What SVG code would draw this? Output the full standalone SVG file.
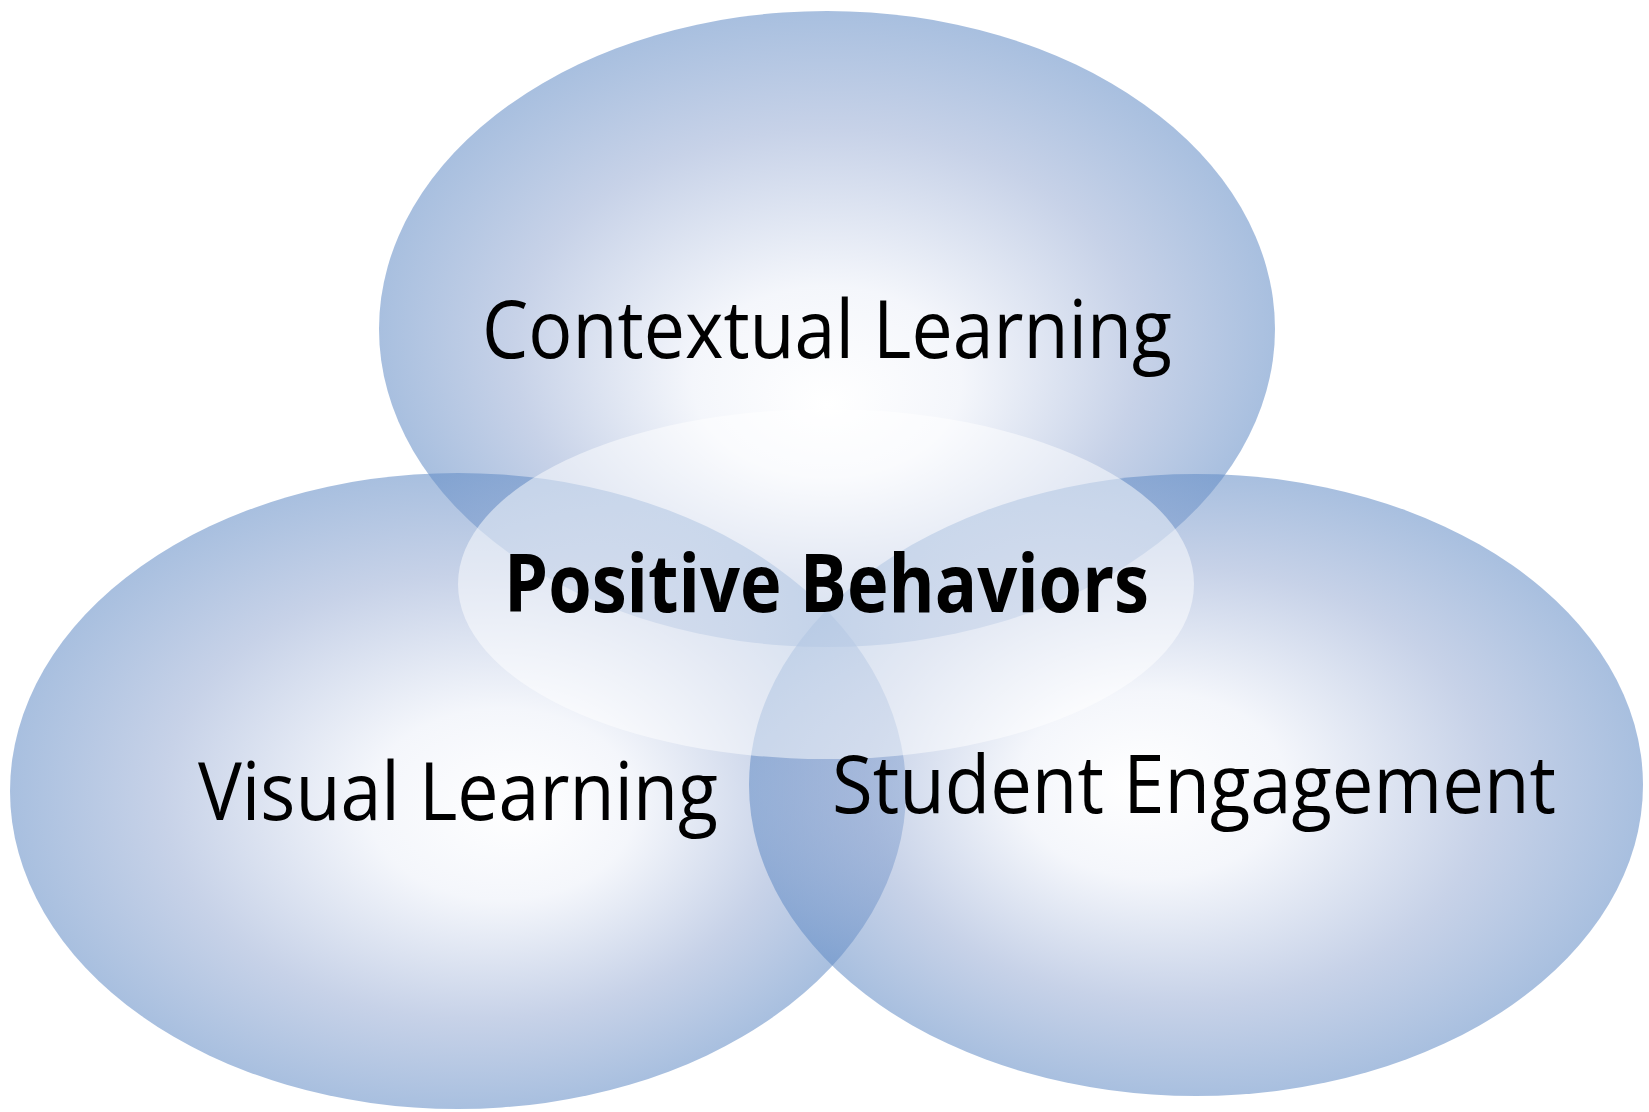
<svg xmlns="http://www.w3.org/2000/svg" width="1649" height="1112" viewBox="0 0 1649 1112">
<style>
.lbl{font-family:"Open Sans","Noto Sans","Liberation Sans",sans-serif;fill:#000;font-size:80px}
.bold{font-weight:700}
.circ{stroke:none}
</style>
<defs>
<radialGradient id="gTop" cx="0.5" cy="0.5" r="0.5" fx="0.5" fy="0.62">
<stop offset="0" stop-color="#ffffff" stop-opacity="0.55"/>
<stop offset="0.3" stop-color="#EBEFF8" stop-opacity="0.55"/>
<stop offset="0.7" stop-color="#99ADD5" stop-opacity="0.55"/>
<stop offset="1" stop-color="#618BC5" stop-opacity="0.55"/>
</radialGradient>
<radialGradient id="gLeft" cx="0.5" cy="0.5" r="0.5" fx="0.57" fy="0.53">
<stop offset="0" stop-color="#ffffff" stop-opacity="0.55"/>
<stop offset="0.3" stop-color="#EBEFF8" stop-opacity="0.55"/>
<stop offset="0.7" stop-color="#99ADD5" stop-opacity="0.55"/>
<stop offset="1" stop-color="#618BC5" stop-opacity="0.55"/>
</radialGradient>
<radialGradient id="gRight" cx="0.5" cy="0.5" r="0.5" fx="0.43" fy="0.5">
<stop offset="0" stop-color="#ffffff" stop-opacity="0.55"/>
<stop offset="0.3" stop-color="#EBEFF8" stop-opacity="0.55"/>
<stop offset="0.7" stop-color="#99ADD5" stop-opacity="0.55"/>
<stop offset="1" stop-color="#618BC5" stop-opacity="0.55"/>
</radialGradient>
</defs>
<rect width="1649" height="1112" fill="#ffffff"/>
<g id="connectors"></g>
<g id="contextual-learning">
<ellipse class="circ" cx="827" cy="329" rx="448" ry="318" fill="url(#gTop)"/>
</g>
<g id="visual-learning">
<ellipse class="circ" cx="458" cy="791" rx="448" ry="318" fill="url(#gLeft)"/>
</g>
<g id="student-engagement">
<ellipse class="circ" cx="1196" cy="785" rx="447" ry="311" fill="url(#gRight)"/>
</g>
<g id="positive-behaviors">
<ellipse cx="826" cy="584" rx="368" ry="175" fill="#ffffff" fill-opacity="0.5"/>
</g>
<g id="labels">
<text class="lbl" x="482" y="358" textLength="690" lengthAdjust="spacingAndGlyphs">Contextual Learning</text>
<text class="lbl bold" x="504" y="612" font-size="77" textLength="645" lengthAdjust="spacingAndGlyphs">Positive Behaviors</text>
<text class="lbl" x="198" y="820" font-size="76" textLength="520" lengthAdjust="spacingAndGlyphs">Visual Learning</text>
<text class="lbl" x="832" y="813" font-size="78" textLength="724" lengthAdjust="spacingAndGlyphs">Student Engagement</text>
</g>
</svg>
